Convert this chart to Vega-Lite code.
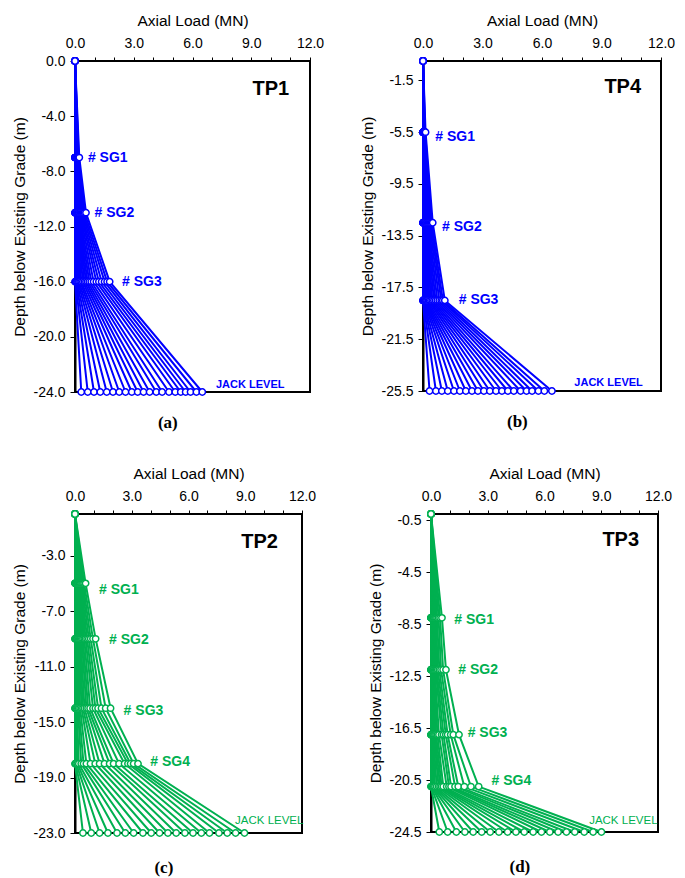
{
"$schema":"https://vega.github.io/schema/vega-lite/v6.json",
"padding":{"left":11,"top":12,"right":4,"bottom":0},
"background":"white",
"datasets":{
"pts":[
{"p":"TP1","s":1,"d":0,"q":0},{"p":"TP1","s":1,"d":-7,"q":0},{"p":"TP1","s":1,"d":-11,"q":0},{"p":"TP1","s":1,"d":-16,"q":0},{"p":"TP1","s":1,"d":-24,"q":0.32},
{"p":"TP1","s":2,"d":0,"q":0},{"p":"TP1","s":2,"d":-7,"q":0},{"p":"TP1","s":2,"d":-11,"q":0},{"p":"TP1","s":2,"d":-16,"q":0.03},{"p":"TP1","s":2,"d":-24,"q":0.65},
{"p":"TP1","s":3,"d":0,"q":0},{"p":"TP1","s":3,"d":-7,"q":0},{"p":"TP1","s":3,"d":-11,"q":0.01},{"p":"TP1","s":3,"d":-16,"q":0.06},{"p":"TP1","s":3,"d":-24,"q":0.97},
{"p":"TP1","s":4,"d":0,"q":0},{"p":"TP1","s":4,"d":-7,"q":0},{"p":"TP1","s":4,"d":-11,"q":0.02},{"p":"TP1","s":4,"d":-16,"q":0.10},{"p":"TP1","s":4,"d":-24,"q":1.29},
{"p":"TP1","s":5,"d":0,"q":0},{"p":"TP1","s":5,"d":-7,"q":0.01},{"p":"TP1","s":5,"d":-11,"q":0.03},{"p":"TP1","s":5,"d":-16,"q":0.15},{"p":"TP1","s":5,"d":-24,"q":1.62},
{"p":"TP1","s":6,"d":0,"q":0},{"p":"TP1","s":6,"d":-7,"q":0.01},{"p":"TP1","s":6,"d":-11,"q":0.04},{"p":"TP1","s":6,"d":-16,"q":0.20},{"p":"TP1","s":6,"d":-24,"q":1.94},
{"p":"TP1","s":7,"d":0,"q":0},{"p":"TP1","s":7,"d":-7,"q":0.02},{"p":"TP1","s":7,"d":-11,"q":0.05},{"p":"TP1","s":7,"d":-16,"q":0.26},{"p":"TP1","s":7,"d":-24,"q":2.26},
{"p":"TP1","s":8,"d":0,"q":0},{"p":"TP1","s":8,"d":-7,"q":0.02},{"p":"TP1","s":8,"d":-11,"q":0.07},{"p":"TP1","s":8,"d":-16,"q":0.32},{"p":"TP1","s":8,"d":-24,"q":2.58},
{"p":"TP1","s":9,"d":0,"q":0},{"p":"TP1","s":9,"d":-7,"q":0.03},{"p":"TP1","s":9,"d":-11,"q":0.09},{"p":"TP1","s":9,"d":-16,"q":0.40},{"p":"TP1","s":9,"d":-24,"q":2.90},
{"p":"TP1","s":10,"d":0,"q":0},{"p":"TP1","s":10,"d":-7,"q":0.04},{"p":"TP1","s":10,"d":-11,"q":0.11},{"p":"TP1","s":10,"d":-16,"q":0.48},{"p":"TP1","s":10,"d":-24,"q":3.20},
{"p":"TP1","s":11,"d":0,"q":0},{"p":"TP1","s":11,"d":-7,"q":0.05},{"p":"TP1","s":11,"d":-11,"q":0.13},{"p":"TP1","s":11,"d":-16,"q":0.56},{"p":"TP1","s":11,"d":-24,"q":3.50},
{"p":"TP1","s":12,"d":0,"q":0},{"p":"TP1","s":12,"d":-7,"q":0.06},{"p":"TP1","s":12,"d":-11,"q":0.15},{"p":"TP1","s":12,"d":-16,"q":0.64},{"p":"TP1","s":12,"d":-24,"q":3.81},
{"p":"TP1","s":13,"d":0,"q":0},{"p":"TP1","s":13,"d":-7,"q":0.07},{"p":"TP1","s":13,"d":-11,"q":0.18},{"p":"TP1","s":13,"d":-16,"q":0.73},{"p":"TP1","s":13,"d":-24,"q":4.15},
{"p":"TP1","s":14,"d":0,"q":0},{"p":"TP1","s":14,"d":-7,"q":0.08},{"p":"TP1","s":14,"d":-11,"q":0.21},{"p":"TP1","s":14,"d":-16,"q":0.83},{"p":"TP1","s":14,"d":-24,"q":4.45},
{"p":"TP1","s":15,"d":0,"q":0},{"p":"TP1","s":15,"d":-7,"q":0.09},{"p":"TP1","s":15,"d":-11,"q":0.25},{"p":"TP1","s":15,"d":-16,"q":0.95},{"p":"TP1","s":15,"d":-24,"q":4.80},
{"p":"TP1","s":16,"d":0,"q":0},{"p":"TP1","s":16,"d":-7,"q":0.11},{"p":"TP1","s":16,"d":-11,"q":0.29},{"p":"TP1","s":16,"d":-16,"q":1.09},{"p":"TP1","s":16,"d":-24,"q":5.12},
{"p":"TP1","s":17,"d":0,"q":0},{"p":"TP1","s":17,"d":-7,"q":0.13},{"p":"TP1","s":17,"d":-11,"q":0.33},{"p":"TP1","s":17,"d":-16,"q":1.22},{"p":"TP1","s":17,"d":-24,"q":5.40},
{"p":"TP1","s":18,"d":0,"q":0},{"p":"TP1","s":18,"d":-7,"q":0.15},{"p":"TP1","s":18,"d":-11,"q":0.38},{"p":"TP1","s":18,"d":-16,"q":1.36},{"p":"TP1","s":18,"d":-24,"q":5.65},
{"p":"TP1","s":19,"d":0,"q":0},{"p":"TP1","s":19,"d":-7,"q":0.17},{"p":"TP1","s":19,"d":-11,"q":0.43},{"p":"TP1","s":19,"d":-16,"q":1.51},{"p":"TP1","s":19,"d":-24,"q":5.90},
{"p":"TP1","s":20,"d":0,"q":0},{"p":"TP1","s":20,"d":-7,"q":0.19},{"p":"TP1","s":20,"d":-11,"q":0.49},{"p":"TP1","s":20,"d":-16,"q":1.64},{"p":"TP1","s":20,"d":-24,"q":6.20},
{"p":"TP1","s":21,"d":0,"q":0},{"p":"TP1","s":21,"d":-7,"q":0.22},{"p":"TP1","s":21,"d":-11,"q":0.56},{"p":"TP1","s":21,"d":-16,"q":1.77},{"p":"TP1","s":21,"d":-24,"q":6.50},

{"p":"TP4","s":1,"d":0,"q":0},{"p":"TP4","s":1,"d":-5.5,"q":0},{"p":"TP4","s":1,"d":-12.5,"q":0},{"p":"TP4","s":1,"d":-18.5,"q":0},{"p":"TP4","s":1,"d":-25.5,"q":0.33},
{"p":"TP4","s":2,"d":0,"q":0},{"p":"TP4","s":2,"d":-5.5,"q":0},{"p":"TP4","s":2,"d":-12.5,"q":0},{"p":"TP4","s":2,"d":-18.5,"q":0},{"p":"TP4","s":2,"d":-25.5,"q":0.65},
{"p":"TP4","s":3,"d":0,"q":0},{"p":"TP4","s":3,"d":-5.5,"q":0},{"p":"TP4","s":3,"d":-12.5,"q":0},{"p":"TP4","s":3,"d":-18.5,"q":0.01},{"p":"TP4","s":3,"d":-25.5,"q":0.95},
{"p":"TP4","s":4,"d":0,"q":0},{"p":"TP4","s":4,"d":-5.5,"q":0},{"p":"TP4","s":4,"d":-12.5,"q":0.01},{"p":"TP4","s":4,"d":-18.5,"q":0.02},{"p":"TP4","s":4,"d":-25.5,"q":1.25},
{"p":"TP4","s":5,"d":0,"q":0},{"p":"TP4","s":5,"d":-5.5,"q":0},{"p":"TP4","s":5,"d":-12.5,"q":0.01},{"p":"TP4","s":5,"d":-18.5,"q":0.04},{"p":"TP4","s":5,"d":-25.5,"q":1.56},
{"p":"TP4","s":6,"d":0,"q":0},{"p":"TP4","s":6,"d":-5.5,"q":0},{"p":"TP4","s":6,"d":-12.5,"q":0.02},{"p":"TP4","s":6,"d":-18.5,"q":0.06},{"p":"TP4","s":6,"d":-25.5,"q":1.86},
{"p":"TP4","s":7,"d":0,"q":0},{"p":"TP4","s":7,"d":-5.5,"q":0.01},{"p":"TP4","s":7,"d":-12.5,"q":0.03},{"p":"TP4","s":7,"d":-18.5,"q":0.09},{"p":"TP4","s":7,"d":-25.5,"q":2.16},
{"p":"TP4","s":8,"d":0,"q":0},{"p":"TP4","s":8,"d":-5.5,"q":0.01},{"p":"TP4","s":8,"d":-12.5,"q":0.04},{"p":"TP4","s":8,"d":-18.5,"q":0.12},{"p":"TP4","s":8,"d":-25.5,"q":2.47},
{"p":"TP4","s":9,"d":0,"q":0},{"p":"TP4","s":9,"d":-5.5,"q":0.01},{"p":"TP4","s":9,"d":-12.5,"q":0.05},{"p":"TP4","s":9,"d":-18.5,"q":0.16},{"p":"TP4","s":9,"d":-25.5,"q":2.77},
{"p":"TP4","s":10,"d":0,"q":0},{"p":"TP4","s":10,"d":-5.5,"q":0.02},{"p":"TP4","s":10,"d":-12.5,"q":0.07},{"p":"TP4","s":10,"d":-18.5,"q":0.21},{"p":"TP4","s":10,"d":-25.5,"q":3.07},
{"p":"TP4","s":11,"d":0,"q":0},{"p":"TP4","s":11,"d":-5.5,"q":0.02},{"p":"TP4","s":11,"d":-12.5,"q":0.09},{"p":"TP4","s":11,"d":-18.5,"q":0.27},{"p":"TP4","s":11,"d":-25.5,"q":3.37},
{"p":"TP4","s":12,"d":0,"q":0},{"p":"TP4","s":12,"d":-5.5,"q":0.03},{"p":"TP4","s":12,"d":-12.5,"q":0.11},{"p":"TP4","s":12,"d":-18.5,"q":0.33},{"p":"TP4","s":12,"d":-25.5,"q":3.68},
{"p":"TP4","s":13,"d":0,"q":0},{"p":"TP4","s":13,"d":-5.5,"q":0.03},{"p":"TP4","s":13,"d":-12.5,"q":0.14},{"p":"TP4","s":13,"d":-18.5,"q":0.40},{"p":"TP4","s":13,"d":-25.5,"q":3.98},
{"p":"TP4","s":14,"d":0,"q":0},{"p":"TP4","s":14,"d":-5.5,"q":0.04},{"p":"TP4","s":14,"d":-12.5,"q":0.17},{"p":"TP4","s":14,"d":-18.5,"q":0.47},{"p":"TP4","s":14,"d":-25.5,"q":4.28},
{"p":"TP4","s":15,"d":0,"q":0},{"p":"TP4","s":15,"d":-5.5,"q":0.05},{"p":"TP4","s":15,"d":-12.5,"q":0.20},{"p":"TP4","s":15,"d":-18.5,"q":0.55},{"p":"TP4","s":15,"d":-25.5,"q":4.58},
{"p":"TP4","s":16,"d":0,"q":0},{"p":"TP4","s":16,"d":-5.5,"q":0.06},{"p":"TP4","s":16,"d":-12.5,"q":0.24},{"p":"TP4","s":16,"d":-18.5,"q":0.63},{"p":"TP4","s":16,"d":-25.5,"q":4.92},
{"p":"TP4","s":17,"d":0,"q":0},{"p":"TP4","s":17,"d":-5.5,"q":0.07},{"p":"TP4","s":17,"d":-12.5,"q":0.28},{"p":"TP4","s":17,"d":-18.5,"q":0.72},{"p":"TP4","s":17,"d":-25.5,"q":5.22},
{"p":"TP4","s":18,"d":0,"q":0},{"p":"TP4","s":18,"d":-5.5,"q":0.08},{"p":"TP4","s":18,"d":-12.5,"q":0.33},{"p":"TP4","s":18,"d":-18.5,"q":0.82},{"p":"TP4","s":18,"d":-25.5,"q":5.50},
{"p":"TP4","s":19,"d":0,"q":0},{"p":"TP4","s":19,"d":-5.5,"q":0.09},{"p":"TP4","s":19,"d":-12.5,"q":0.38},{"p":"TP4","s":19,"d":-18.5,"q":0.92},{"p":"TP4","s":19,"d":-25.5,"q":5.82},
{"p":"TP4","s":20,"d":0,"q":0},{"p":"TP4","s":20,"d":-5.5,"q":0.11},{"p":"TP4","s":20,"d":-12.5,"q":0.43},{"p":"TP4","s":20,"d":-18.5,"q":1.00},{"p":"TP4","s":20,"d":-25.5,"q":6.12},
{"p":"TP4","s":21,"d":0,"q":0},{"p":"TP4","s":21,"d":-5.5,"q":0.13},{"p":"TP4","s":21,"d":-12.5,"q":0.49},{"p":"TP4","s":21,"d":-18.5,"q":1.10},{"p":"TP4","s":21,"d":-25.5,"q":6.50},

{"p":"TP2","s":1,"d":0,"q":0},{"p":"TP2","s":1,"d":-5,"q":0},{"p":"TP2","s":1,"d":-9,"q":0},{"p":"TP2","s":1,"d":-14,"q":0},{"p":"TP2","s":1,"d":-18,"q":0},{"p":"TP2","s":1,"d":-23,"q":0.42},
{"p":"TP2","s":2,"d":0,"q":0},{"p":"TP2","s":2,"d":-5,"q":0.01},{"p":"TP2","s":2,"d":-9,"q":0.01},{"p":"TP2","s":2,"d":-14,"q":0.01},{"p":"TP2","s":2,"d":-18,"q":0.02},{"p":"TP2","s":2,"d":-23,"q":0.86},
{"p":"TP2","s":3,"d":0,"q":0},{"p":"TP2","s":3,"d":-5,"q":0.01},{"p":"TP2","s":3,"d":-9,"q":0.02},{"p":"TP2","s":3,"d":-14,"q":0.03},{"p":"TP2","s":3,"d":-18,"q":0.06},{"p":"TP2","s":3,"d":-23,"q":1.30},
{"p":"TP2","s":4,"d":0,"q":0},{"p":"TP2","s":4,"d":-5,"q":0.02},{"p":"TP2","s":4,"d":-9,"q":0.04},{"p":"TP2","s":4,"d":-14,"q":0.06},{"p":"TP2","s":4,"d":-18,"q":0.12},{"p":"TP2","s":4,"d":-23,"q":1.74},
{"p":"TP2","s":5,"d":0,"q":0},{"p":"TP2","s":5,"d":-5,"q":0.03},{"p":"TP2","s":5,"d":-9,"q":0.06},{"p":"TP2","s":5,"d":-14,"q":0.10},{"p":"TP2","s":5,"d":-18,"q":0.20},{"p":"TP2","s":5,"d":-23,"q":2.22},
{"p":"TP2","s":6,"d":0,"q":0},{"p":"TP2","s":6,"d":-5,"q":0.04},{"p":"TP2","s":6,"d":-9,"q":0.09},{"p":"TP2","s":6,"d":-14,"q":0.15},{"p":"TP2","s":6,"d":-18,"q":0.33},{"p":"TP2","s":6,"d":-23,"q":2.66},
{"p":"TP2","s":7,"d":0,"q":0},{"p":"TP2","s":7,"d":-5,"q":0.06},{"p":"TP2","s":7,"d":-9,"q":0.12},{"p":"TP2","s":7,"d":-14,"q":0.20},{"p":"TP2","s":7,"d":-18,"q":0.45},{"p":"TP2","s":7,"d":-23,"q":3.10},
{"p":"TP2","s":8,"d":0,"q":0},{"p":"TP2","s":8,"d":-5,"q":0.08},{"p":"TP2","s":8,"d":-9,"q":0.16},{"p":"TP2","s":8,"d":-14,"q":0.27},{"p":"TP2","s":8,"d":-18,"q":0.60},{"p":"TP2","s":8,"d":-23,"q":3.59},
{"p":"TP2","s":9,"d":0,"q":0},{"p":"TP2","s":9,"d":-5,"q":0.10},{"p":"TP2","s":9,"d":-9,"q":0.20},{"p":"TP2","s":9,"d":-14,"q":0.35},{"p":"TP2","s":9,"d":-18,"q":0.82},{"p":"TP2","s":9,"d":-23,"q":4.03},
{"p":"TP2","s":10,"d":0,"q":0},{"p":"TP2","s":10,"d":-5,"q":0.12},{"p":"TP2","s":10,"d":-9,"q":0.25},{"p":"TP2","s":10,"d":-14,"q":0.42},{"p":"TP2","s":10,"d":-18,"q":1.07},{"p":"TP2","s":10,"d":-23,"q":4.47},
{"p":"TP2","s":11,"d":0,"q":0},{"p":"TP2","s":11,"d":-5,"q":0.15},{"p":"TP2","s":11,"d":-9,"q":0.30},{"p":"TP2","s":11,"d":-14,"q":0.50},{"p":"TP2","s":11,"d":-18,"q":1.30},{"p":"TP2","s":11,"d":-23,"q":4.91},
{"p":"TP2","s":12,"d":0,"q":0},{"p":"TP2","s":12,"d":-5,"q":0.18},{"p":"TP2","s":12,"d":-9,"q":0.36},{"p":"TP2","s":12,"d":-14,"q":0.60},{"p":"TP2","s":12,"d":-18,"q":1.56},{"p":"TP2","s":12,"d":-23,"q":5.35},
{"p":"TP2","s":13,"d":0,"q":0},{"p":"TP2","s":13,"d":-5,"q":0.21},{"p":"TP2","s":13,"d":-9,"q":0.42},{"p":"TP2","s":13,"d":-14,"q":0.69},{"p":"TP2","s":13,"d":-18,"q":1.83},{"p":"TP2","s":13,"d":-23,"q":5.81},
{"p":"TP2","s":14,"d":0,"q":0},{"p":"TP2","s":14,"d":-5,"q":0.24},{"p":"TP2","s":14,"d":-9,"q":0.49},{"p":"TP2","s":14,"d":-14,"q":0.80},{"p":"TP2","s":14,"d":-18,"q":2.04},{"p":"TP2","s":14,"d":-23,"q":6.24},
{"p":"TP2","s":15,"d":0,"q":0},{"p":"TP2","s":15,"d":-5,"q":0.28},{"p":"TP2","s":15,"d":-9,"q":0.56},{"p":"TP2","s":15,"d":-14,"q":0.95},{"p":"TP2","s":15,"d":-18,"q":2.33},{"p":"TP2","s":15,"d":-23,"q":6.68},
{"p":"TP2","s":16,"d":0,"q":0},{"p":"TP2","s":16,"d":-5,"q":0.32},{"p":"TP2","s":16,"d":-9,"q":0.64},{"p":"TP2","s":16,"d":-14,"q":1.08},{"p":"TP2","s":16,"d":-18,"q":2.62},{"p":"TP2","s":16,"d":-23,"q":7.11},
{"p":"TP2","s":17,"d":0,"q":0},{"p":"TP2","s":17,"d":-5,"q":0.37},{"p":"TP2","s":17,"d":-9,"q":0.73},{"p":"TP2","s":17,"d":-14,"q":1.22},{"p":"TP2","s":17,"d":-18,"q":2.80},{"p":"TP2","s":17,"d":-23,"q":7.61},
{"p":"TP2","s":18,"d":0,"q":0},{"p":"TP2","s":18,"d":-5,"q":0.42},{"p":"TP2","s":18,"d":-9,"q":0.83},{"p":"TP2","s":18,"d":-14,"q":1.40},{"p":"TP2","s":18,"d":-18,"q":2.94},{"p":"TP2","s":18,"d":-23,"q":8.05},
{"p":"TP2","s":19,"d":0,"q":0},{"p":"TP2","s":19,"d":-5,"q":0.48},{"p":"TP2","s":19,"d":-9,"q":0.95},{"p":"TP2","s":19,"d":-14,"q":1.62},{"p":"TP2","s":19,"d":-18,"q":3.10},{"p":"TP2","s":19,"d":-23,"q":8.49},
{"p":"TP2","s":20,"d":0,"q":0},{"p":"TP2","s":20,"d":-5,"q":0.56},{"p":"TP2","s":20,"d":-9,"q":1.09},{"p":"TP2","s":20,"d":-14,"q":1.88},{"p":"TP2","s":20,"d":-18,"q":3.33},{"p":"TP2","s":20,"d":-23,"q":8.96},

{"p":"TP3","s":1,"d":0,"q":0},{"p":"TP3","s":1,"d":-8,"q":0},{"p":"TP3","s":1,"d":-12,"q":0},{"p":"TP3","s":1,"d":-17,"q":0},{"p":"TP3","s":1,"d":-21,"q":0},{"p":"TP3","s":1,"d":-24.5,"q":0.44},
{"p":"TP3","s":2,"d":0,"q":0},{"p":"TP3","s":2,"d":-8,"q":0},{"p":"TP3","s":2,"d":-12,"q":0},{"p":"TP3","s":2,"d":-17,"q":0},{"p":"TP3","s":2,"d":-21,"q":0.01},{"p":"TP3","s":2,"d":-24.5,"q":0.88},
{"p":"TP3","s":3,"d":0,"q":0},{"p":"TP3","s":3,"d":-8,"q":0},{"p":"TP3","s":3,"d":-12,"q":0.01},{"p":"TP3","s":3,"d":-17,"q":0.01},{"p":"TP3","s":3,"d":-21,"q":0.03},{"p":"TP3","s":3,"d":-24.5,"q":1.34},
{"p":"TP3","s":4,"d":0,"q":0},{"p":"TP3","s":4,"d":-8,"q":0.01},{"p":"TP3","s":4,"d":-12,"q":0.01},{"p":"TP3","s":4,"d":-17,"q":0.02},{"p":"TP3","s":4,"d":-21,"q":0.06},{"p":"TP3","s":4,"d":-24.5,"q":1.79},
{"p":"TP3","s":5,"d":0,"q":0},{"p":"TP3","s":5,"d":-8,"q":0.01},{"p":"TP3","s":5,"d":-12,"q":0.02},{"p":"TP3","s":5,"d":-17,"q":0.04},{"p":"TP3","s":5,"d":-21,"q":0.10},{"p":"TP3","s":5,"d":-24.5,"q":2.23},
{"p":"TP3","s":6,"d":0,"q":0},{"p":"TP3","s":6,"d":-8,"q":0.02},{"p":"TP3","s":6,"d":-12,"q":0.03},{"p":"TP3","s":6,"d":-17,"q":0.06},{"p":"TP3","s":6,"d":-21,"q":0.15},{"p":"TP3","s":6,"d":-24.5,"q":2.68},
{"p":"TP3","s":7,"d":0,"q":0},{"p":"TP3","s":7,"d":-8,"q":0.03},{"p":"TP3","s":7,"d":-12,"q":0.04},{"p":"TP3","s":7,"d":-17,"q":0.09},{"p":"TP3","s":7,"d":-21,"q":0.21},{"p":"TP3","s":7,"d":-24.5,"q":3.13},
{"p":"TP3","s":8,"d":0,"q":0},{"p":"TP3","s":8,"d":-8,"q":0.04},{"p":"TP3","s":8,"d":-12,"q":0.06},{"p":"TP3","s":8,"d":-17,"q":0.12},{"p":"TP3","s":8,"d":-21,"q":0.30},{"p":"TP3","s":8,"d":-24.5,"q":3.59},
{"p":"TP3","s":9,"d":0,"q":0},{"p":"TP3","s":9,"d":-8,"q":0.05},{"p":"TP3","s":9,"d":-12,"q":0.08},{"p":"TP3","s":9,"d":-17,"q":0.16},{"p":"TP3","s":9,"d":-21,"q":0.40},{"p":"TP3","s":9,"d":-24.5,"q":4.05},
{"p":"TP3","s":10,"d":0,"q":0},{"p":"TP3","s":10,"d":-8,"q":0.07},{"p":"TP3","s":10,"d":-12,"q":0.10},{"p":"TP3","s":10,"d":-17,"q":0.21},{"p":"TP3","s":10,"d":-21,"q":0.48},{"p":"TP3","s":10,"d":-24.5,"q":4.49},
{"p":"TP3","s":11,"d":0,"q":0},{"p":"TP3","s":11,"d":-8,"q":0.09},{"p":"TP3","s":11,"d":-12,"q":0.13},{"p":"TP3","s":11,"d":-17,"q":0.27},{"p":"TP3","s":11,"d":-21,"q":0.56},{"p":"TP3","s":11,"d":-24.5,"q":4.93},
{"p":"TP3","s":12,"d":0,"q":0},{"p":"TP3","s":12,"d":-8,"q":0.11},{"p":"TP3","s":12,"d":-12,"q":0.16},{"p":"TP3","s":12,"d":-17,"q":0.34},{"p":"TP3","s":12,"d":-21,"q":0.65},{"p":"TP3","s":12,"d":-24.5,"q":5.40},
{"p":"TP3","s":13,"d":0,"q":0},{"p":"TP3","s":13,"d":-8,"q":0.14},{"p":"TP3","s":13,"d":-12,"q":0.20},{"p":"TP3","s":13,"d":-17,"q":0.42},{"p":"TP3","s":13,"d":-21,"q":0.83},{"p":"TP3","s":13,"d":-24.5,"q":5.84},
{"p":"TP3","s":14,"d":0,"q":0},{"p":"TP3","s":14,"d":-8,"q":0.17},{"p":"TP3","s":14,"d":-12,"q":0.25},{"p":"TP3","s":14,"d":-17,"q":0.56},{"p":"TP3","s":14,"d":-21,"q":0.95},{"p":"TP3","s":14,"d":-24.5,"q":6.28},
{"p":"TP3","s":15,"d":0,"q":0},{"p":"TP3","s":15,"d":-8,"q":0.21},{"p":"TP3","s":15,"d":-12,"q":0.30},{"p":"TP3","s":15,"d":-17,"q":0.66},{"p":"TP3","s":15,"d":-21,"q":1.06},{"p":"TP3","s":15,"d":-24.5,"q":6.72},
{"p":"TP3","s":16,"d":0,"q":0},{"p":"TP3","s":16,"d":-8,"q":0.26},{"p":"TP3","s":16,"d":-12,"q":0.36},{"p":"TP3","s":16,"d":-17,"q":0.78},{"p":"TP3","s":16,"d":-21,"q":1.27},{"p":"TP3","s":16,"d":-24.5,"q":7.16},
{"p":"TP3","s":17,"d":0,"q":0},{"p":"TP3","s":17,"d":-8,"q":0.32},{"p":"TP3","s":17,"d":-12,"q":0.44},{"p":"TP3","s":17,"d":-17,"q":0.88},{"p":"TP3","s":17,"d":-21,"q":1.44},{"p":"TP3","s":17,"d":-24.5,"q":7.60},
{"p":"TP3","s":18,"d":0,"q":0},{"p":"TP3","s":18,"d":-8,"q":0.40},{"p":"TP3","s":18,"d":-12,"q":0.53},{"p":"TP3","s":18,"d":-17,"q":1.04},{"p":"TP3","s":18,"d":-21,"q":1.76},{"p":"TP3","s":18,"d":-24.5,"q":8.10},
{"p":"TP3","s":19,"d":0,"q":0},{"p":"TP3","s":19,"d":-8,"q":0.48},{"p":"TP3","s":19,"d":-12,"q":0.64},{"p":"TP3","s":19,"d":-17,"q":1.18},{"p":"TP3","s":19,"d":-21,"q":2.11},{"p":"TP3","s":19,"d":-24.5,"q":8.57},
{"p":"TP3","s":20,"d":0,"q":0},{"p":"TP3","s":20,"d":-8,"q":0.58},{"p":"TP3","s":20,"d":-12,"q":0.79},{"p":"TP3","s":20,"d":-17,"q":1.48},{"p":"TP3","s":20,"d":-21,"q":2.52},{"p":"TP3","s":20,"d":-24.5,"q":9.01}
],
"lbl":[
{"p":"TP1","t":"TP1","q":10.0,"d":-2},{"p":"TP1","t":"# SG1","q":0.66,"d":-7},{"p":"TP1","t":"# SG2","q":1.0,"d":-11},{"p":"TP1","t":"# SG3","q":2.4,"d":-16},{"p":"TP1","t":"JACK LEVEL","q":7.2,"d":-23.5},
{"p":"TP4","t":"TP4","q":10.07,"d":-2},{"p":"TP4","t":"# SG1","q":0.62,"d":-5.9},{"p":"TP4","t":"# SG2","q":0.96,"d":-12.8},{"p":"TP4","t":"# SG3","q":1.8,"d":-18.5},{"p":"TP4","t":"JACK LEVEL","q":7.63,"d":-24.9},
{"p":"TP2","t":"TP2","q":9.76,"d":-2},{"p":"TP2","t":"# SG1","q":1.27,"d":-5.45},{"p":"TP2","t":"# SG2","q":1.8,"d":-9.1},{"p":"TP2","t":"# SG3","q":2.57,"d":-14.2},{"p":"TP2","t":"# SG4","q":3.98,"d":-17.9},{"p":"TP2","t":"JACK LEVEL","q":8.46,"d":-22.15},
{"p":"TP3","t":"TP3","q":10.03,"d":-2},{"p":"TP3","t":"# SG1","q":1.23,"d":-8.2},{"p":"TP3","t":"# SG2","q":1.44,"d":-12},{"p":"TP3","t":"# SG3","q":1.94,"d":-16.85},{"p":"TP3","t":"# SG4","q":3.2,"d":-20.6},{"p":"TP3","t":"JACK LEVEL","q":8.36,"d":-23.66}
]
},
"vconcat":[
{"hconcat":[
{"width":235,"height":331,"title":{"text":"(a)","offset":16},
 "encoding":{
  "x":{"field":"q","type":"quantitative","scale":{"domain":[0,12],"nice":false},"axis":{"orient":"top","values":[0,1,2,3,4,5,6,7,8,9,10,11,12],"labelExpr":"datum.value % 3 === 0 ? format(datum.value,'.1f') : ''","title":"Axial Load (MN)"}},
  "y":{"field":"d","type":"quantitative","scale":{"domain":[-24,0],"nice":false,"zero":false},"axis":{"values":[0,-4,-8,-12,-16,-20,-24],"format":".1f","title":"Depth below Existing Grade (m)"}}},
 "layer":[
  {"data":{"name":"pts"},"transform":[{"filter":"datum.p==='TP1'"}],"mark":{"type":"line","color":"#0000FF","strokeWidth":2},"encoding":{"detail":{"field":"s"},"order":{"field":"d"}}},
  {"data":{"name":"pts"},"transform":[{"filter":"datum.p==='TP1'"}],"mark":{"type":"point","shape":"circle","filled":true,"fill":"white","stroke":"#0000FF","strokeWidth":1.5,"size":40,"opacity":1},"encoding":{}},
  {"data":{"name":"lbl"},"transform":[{"filter":"datum.p==='TP1' && indexof(datum.t,'SG')>=0"}],"mark":{"type":"text","align":"left","baseline":"middle","font":"Liberation Sans","fontSize":14,"fontWeight":"bold","color":"#0000FF"},"encoding":{"text":{"field":"t"}}},
  {"data":{"name":"lbl"},"transform":[{"filter":"datum.p==='TP1' && datum.t==='TP1'"}],"mark":{"type":"text","align":"center","baseline":"middle","font":"Liberation Sans","fontSize":20,"fontWeight":"bold","color":"black"},"encoding":{"text":{"field":"t"}}},
  {"data":{"name":"lbl"},"transform":[{"filter":"datum.p==='TP1' && datum.t==='JACK LEVEL'"}],"mark":{"type":"text","align":"left","baseline":"middle","font":"Liberation Sans","fontSize":11,"fontWeight":"bold","color":"#0000FF"},"encoding":{"text":{"field":"t"}}}
 ]},
{"width":238,"height":330,"title":{"text":"(b)","offset":16},
 "encoding":{
  "x":{"field":"q","type":"quantitative","scale":{"domain":[0,12],"nice":false},"axis":{"orient":"top","values":[0,1,2,3,4,5,6,7,8,9,10,11,12],"labelExpr":"datum.value % 3 === 0 ? format(datum.value,'.1f') : ''","title":"Axial Load (MN)"}},
  "y":{"field":"d","type":"quantitative","scale":{"domain":[-25.5,0],"nice":false,"zero":false},"axis":{"values":[-1.5,-5.5,-9.5,-13.5,-17.5,-21.5,-25.5],"format":".1f","title":"Depth below Existing Grade (m)"}}},
 "layer":[
  {"data":{"name":"pts"},"transform":[{"filter":"datum.p==='TP4'"}],"mark":{"type":"line","color":"#0000FF","strokeWidth":2},"encoding":{"detail":{"field":"s"},"order":{"field":"d"}}},
  {"data":{"name":"pts"},"transform":[{"filter":"datum.p==='TP4'"}],"mark":{"type":"point","shape":"circle","filled":true,"fill":"white","stroke":"#0000FF","strokeWidth":1.5,"size":40,"opacity":1},"encoding":{}},
  {"data":{"name":"lbl"},"transform":[{"filter":"datum.p==='TP4' && indexof(datum.t,'SG')>=0"}],"mark":{"type":"text","align":"left","baseline":"middle","font":"Liberation Sans","fontSize":14,"fontWeight":"bold","color":"#0000FF"},"encoding":{"text":{"field":"t"}}},
  {"data":{"name":"lbl"},"transform":[{"filter":"datum.p==='TP4' && datum.t==='TP4'"}],"mark":{"type":"text","align":"center","baseline":"middle","font":"Liberation Sans","fontSize":20,"fontWeight":"bold","color":"black"},"encoding":{"text":{"field":"t"}}},
  {"data":{"name":"lbl"},"transform":[{"filter":"datum.p==='TP4' && datum.t==='JACK LEVEL'"}],"mark":{"type":"text","align":"left","baseline":"middle","font":"Liberation Sans","fontSize":11,"fontWeight":"bold","color":"#0000FF"},"encoding":{"text":{"field":"t"}}}
 ]}
],"spacing":34},
{"hconcat":[
{"width":227,"height":319,"title":{"text":"(c)","offset":20},
 "encoding":{
  "x":{"field":"q","type":"quantitative","scale":{"domain":[0,12],"nice":false},"axis":{"orient":"top","values":[0,1,2,3,4,5,6,7,8,9,10,11,12],"labelExpr":"datum.value % 3 === 0 ? format(datum.value,'.1f') : ''","title":"Axial Load (MN)"}},
  "y":{"field":"d","type":"quantitative","scale":{"domain":[-23,0],"nice":false,"zero":false},"axis":{"values":[-3,-7,-11,-15,-19,-23],"format":".1f","title":"Depth below Existing Grade (m)"}}},
 "layer":[
  {"data":{"name":"pts"},"transform":[{"filter":"datum.p==='TP2'"}],"mark":{"type":"line","color":"#00B050","strokeWidth":2},"encoding":{"detail":{"field":"s"},"order":{"field":"d"}}},
  {"data":{"name":"pts"},"transform":[{"filter":"datum.p==='TP2'"}],"mark":{"type":"point","shape":"circle","filled":true,"fill":"white","stroke":"#00B050","strokeWidth":1.5,"size":40,"opacity":1},"encoding":{}},
  {"data":{"name":"lbl"},"transform":[{"filter":"datum.p==='TP2' && indexof(datum.t,'SG')>=0"}],"mark":{"type":"text","align":"left","baseline":"middle","font":"Liberation Sans","fontSize":14,"fontWeight":"bold","color":"#00B050"},"encoding":{"text":{"field":"t"}}},
  {"data":{"name":"lbl"},"transform":[{"filter":"datum.p==='TP2' && datum.t==='TP2'"}],"mark":{"type":"text","align":"center","baseline":"middle","font":"Liberation Sans","fontSize":20,"fontWeight":"bold","color":"black"},"encoding":{"text":{"field":"t"}}},
  {"data":{"name":"lbl"},"transform":[{"filter":"datum.p==='TP2' && datum.t==='JACK LEVEL'"}],"mark":{"type":"text","align":"left","baseline":"middle","font":"Liberation Sans","fontSize":11.5,"fontWeight":"normal","color":"#00B050"},"encoding":{"text":{"field":"t"}}}
 ]},
{"width":227,"height":318,"title":{"text":"(d)","offset":20},
 "encoding":{
  "x":{"field":"q","type":"quantitative","scale":{"domain":[0,12],"nice":false},"axis":{"orient":"top","values":[0,1,2,3,4,5,6,7,8,9,10,11,12],"labelExpr":"datum.value % 3 === 0 ? format(datum.value,'.1f') : ''","title":"Axial Load (MN)"}},
  "y":{"field":"d","type":"quantitative","scale":{"domain":[-24.5,0],"nice":false,"zero":false},"axis":{"values":[-0.5,-4.5,-8.5,-12.5,-16.5,-20.5,-24.5],"format":".1f","title":"Depth below Existing Grade (m)"}}},
 "layer":[
  {"data":{"name":"pts"},"transform":[{"filter":"datum.p==='TP3'"}],"mark":{"type":"line","color":"#00B050","strokeWidth":2},"encoding":{"detail":{"field":"s"},"order":{"field":"d"}}},
  {"data":{"name":"pts"},"transform":[{"filter":"datum.p==='TP3'"}],"mark":{"type":"point","shape":"circle","filled":true,"fill":"white","stroke":"#00B050","strokeWidth":1.5,"size":40,"opacity":1},"encoding":{}},
  {"data":{"name":"lbl"},"transform":[{"filter":"datum.p==='TP3' && indexof(datum.t,'SG')>=0"}],"mark":{"type":"text","align":"left","baseline":"middle","font":"Liberation Sans","fontSize":14,"fontWeight":"bold","color":"#00B050"},"encoding":{"text":{"field":"t"}}},
  {"data":{"name":"lbl"},"transform":[{"filter":"datum.p==='TP3' && datum.t==='TP3'"}],"mark":{"type":"text","align":"center","baseline":"middle","font":"Liberation Sans","fontSize":20,"fontWeight":"bold","color":"black"},"encoding":{"text":{"field":"t"}}},
  {"data":{"name":"lbl"},"transform":[{"filter":"datum.p==='TP3' && datum.t==='JACK LEVEL'"}],"mark":{"type":"text","align":"left","baseline":"middle","font":"Liberation Sans","fontSize":11.5,"fontWeight":"normal","color":"#00B050"},"encoding":{"text":{"field":"t"}}}
 ]}
],"spacing":50}
],
"spacing":33,
"config":{
 "locale":{"number":{"decimal":".","thousands":",","grouping":[3],"currency":["$",""],"minus":"-"}},
 "view":{"stroke":"black","strokeWidth":2},
 "axis":{"labelFont":"Liberation Sans","labelFontSize":14,"labelColor":"black","titleFont":"Liberation Sans","titleFontSize":15.5,"titleFontWeight":"normal","titleColor":"black","domainColor":"black","tickColor":"black","grid":false,"labelFlush":false,"labelOverlap":false,"labelPadding":5,"titlePadding":6},
 "axisX":{"tickSize":4,"domainWidth":1,"labelPadding":7,"titlePadding":8},
 "axisY":{"tickSize":5,"domainWidth":2},
 "title":{"orient":"bottom","font":"Liberation Serif","fontSize":17,"fontWeight":"bold","color":"black","anchor":"middle","frame":"bounds"}
}
}
